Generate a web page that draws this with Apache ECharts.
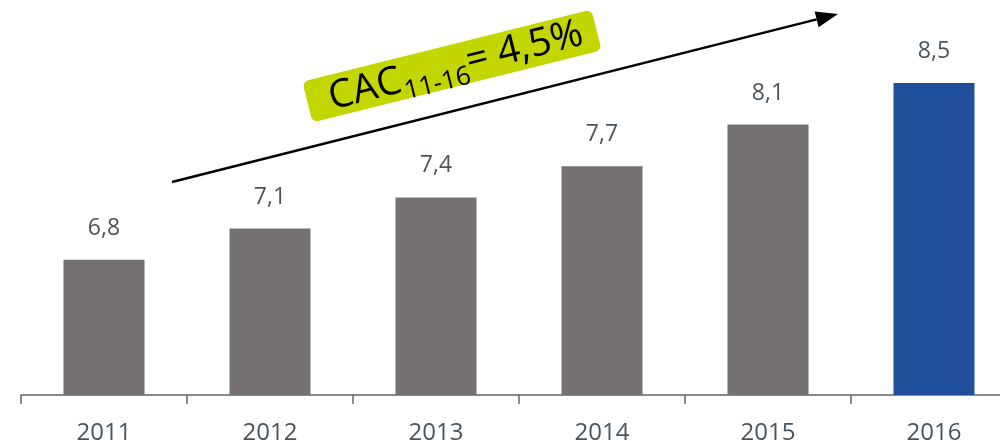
<!DOCTYPE html>
<html>
<head>
<meta charset="utf-8">
<script src="https://cdn.jsdelivr.net/npm/echarts@6/dist/echarts.min.js"></script>
<style>html,body{margin:0;padding:0;background:#fff}#c{width:1000px;height:441px}</style>
</head>
<body>
<div id="c"></div>
<script>
var categories = ['2011', '2012', '2013', '2014', '2015', '2016'];
var values = [6.8, 7.1, 7.4, 7.7, 8.1, 8.5];
var highlightIndex = 5;

var chart = echarts.init(document.getElementById('c'));

var grayColor = '#767171';
var blueColor = '#1f4e9a';

// arrow geometry
var A0 = [172, 182], A1 = [838, 14];
var dx = A1[0] - A0[0], dy = A1[1] - A0[1], L = Math.sqrt(dx * dx + dy * dy);
var ux = dx / L, uy = dy / L, nx = -uy, ny = ux;
var hl = 22, hw = 8;
var bx = A1[0] - hl * ux, by = A1[1] - hl * uy;
var ang = 14 * Math.PI / 180;

var option = {
  animation: false,
  grid: { left: 21, top: 31, right: -17, bottom: 46, containLabel: false, outerBoundsMode: 'none' },
  xAxis: {
    type: 'category',
    data: categories,
    axisLine: { lineStyle: { color: '#60676c', width: 1.5 } },
    axisTick: { show: true, length: 9, lineStyle: { color: '#60676c', width: 1.5 } },
    axisLabel: { color: '#4a545c', fontSize: 24, fontFamily: 'Open Sans', margin: 26 }
  },
  yAxis: {
    type: 'value', min: 5.5, max: 9, show: false,
    splitLine: { show: false }
  },
  series: [{
    type: 'bar',
    barWidth: 81,
    data: values.map(function (v, i) {
      return { value: v, itemStyle: { color: i === highlightIndex ? blueColor : grayColor } };
    }),
    label: {
      show: true, position: 'top', distance: 20,
      color: '#4a545c', fontSize: 23, fontFamily: 'Open Sans',
      formatter: function (p) { return String(p.value.toFixed(1)).replace('.', ','); }
    }
  }],
  graphic: [
    {
      type: 'line',
      shape: { x1: A0[0], y1: A0[1], x2: bx, y2: by },
      style: { stroke: '#000', lineWidth: 2.5 }
    },
    {
      type: 'polygon',
      shape: { points: [[A1[0], A1[1]], [bx + hw * nx, by + hw * ny], [bx - hw * nx, by - hw * ny]] },
      style: { fill: '#000' }
    },
    {
      type: 'group',
      x: 452, y: 66,
      rotation: ang,
      children: [
        { type: 'rect', shape: { x: -149, y: -21, width: 298, height: 42, r: 6 }, style: { fill: '#c4d600' } },
        { type: 'text', x: -127, y: 2, style: { text: 'CAC', fontSize: 39, fontFamily: 'Open Sans', fill: '#000', textVerticalAlign: 'middle', textAlign: 'left' } },
        { type: 'text', x: -52, y: 14, style: { text: '11-16', fontSize: 26, fontFamily: 'Open Sans', fill: '#000', textVerticalAlign: 'middle', textAlign: 'left' } },
        { type: 'text', x: 15, y: 0, style: { text: '= 4,5%', fontSize: 39, fontFamily: 'Open Sans', fill: '#000', textVerticalAlign: 'middle', textAlign: 'left' } }
      ]
    }
  ]
};
chart.setOption(option);
</script>
</body>
</html>
